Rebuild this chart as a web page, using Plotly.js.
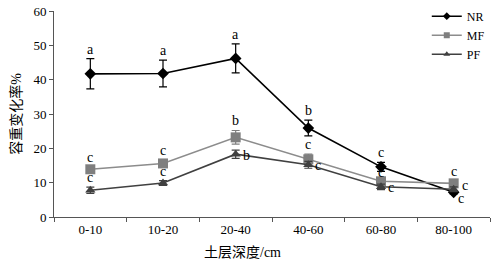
<!DOCTYPE html>
<html>
<head>
<meta charset="utf-8">
<script src="https://cdn.plot.ly/plotly-3.0.1.min.js"></script>
<style>html,body{margin:0;padding:0;background:#fff;}#chart{width:493px;height:266px;}</style>
</head>
<body>
<div id="chart"></div>
<script>
// ---- data ----
const depths = ['0-10', '10-20', '20-40', '40-60', '60-80', '80-100'];
const seriesNames = ['NR', 'MF', 'PF'];
const nrValues = [41.7, 41.8, 46.2, 25.9, 14.6, 7.2];
const nrErrors = [4.4, 3.9, 4.2, 2.3, 1.3, 0.5];
const mfValues = [13.9, 15.6, 23.2, 16.8, 10.4, 9.8];
const mfErrors = [0.8, 0.9, 2.0, 1.5, 1.0, 0.8];
const pfValues = [7.8, 9.9, 18.3, 15.2, 8.8, 8.1];
const pfErrors = [0.9, 0.7, 1.2, 1.0, 0.8, 0.7];
const nrLetters = ['a', 'a', 'a', 'b', 'c', 'c'];
const mfLetters = ['c', 'c', 'b', 'c', 'c', 'c'];
const pfLetters = ['c', 'c', 'b', 'c', 'c', 'c'];
const yTitle = '容重变化率%';
const xTitle = '土层深度/cm';

const FONT = 'Liberation Serif, Times New Roman, Noto Sans CJK SC, serif';

const styles = [
  {color: '#000000', line: '#000000', symbol: 'diamond', size: 9},
  {color: '#7f7f7f', line: '#8c8c8c', symbol: 'square', size: 10},
  {color: '#404040', line: '#404040', symbol: 'triangle-up', size: 9}
];
const vals = [nrValues, mfValues, pfValues];
const errs = [nrErrors, mfErrors, pfErrors];
const letters = [nrLetters, mfLetters, pfLetters];

const traces = vals.map((v, i) => ({
  type: 'scatter', mode: 'lines+markers',
  name: seriesNames[i], x: depths, y: v, showlegend: false,
  line: {color: styles[i].line, width: 1.6},
  marker: {color: styles[i].color, symbol: styles[i].symbol, size: styles[i].size},
  error_y: {type: 'data', array: errs[i], visible: true, color: styles[i].color, thickness: 1.2, width: 4}
}));
// legend-only entries with small markers, as in the reference legend
seriesNames.forEach((n, i) => traces.push({
  type: 'scatter', mode: 'lines+markers', name: n, x: [null], y: [null], showlegend: true,
  line: {color: styles[i].line, width: 1.6},
  marker: {color: styles[i].color, symbol: styles[i].symbol, size: 6}
}));

// label placement: 'up' = above error bar, 'right' = right of marker, 'dr' = down-right, 'on' = just above marker
const placement = [
  ['up', 'up', 'up', 'up', 'up', 'dr'],
  ['up', 'up', 'up', 'up', 'on', 'up'],
  ['up', 'up', 'right', 'right', 'right', 'ur']
];
const annotations = [];
letters.forEach((ls, i) => {
  ls.forEach((t, j) => {
    const p = placement[i][j];
    let a = {x: depths[j], xref: 'x', yref: 'y', text: t, showarrow: false,
      font: {family: FONT, size: 14, color: '#000'}};
    if (p === 'up') { a.y = vals[i][j] + errs[i][j]; a.yanchor = 'bottom'; a.yshift = 0; }
    else if (p === 'on') { a.y = vals[i][j]; a.yanchor = 'bottom'; a.yshift = -1; }
    else if (p === 'right') { a.y = vals[i][j]; a.xanchor = 'left'; a.xshift = 5; a.yshift = -1; }
    else if (p === 'ur') { a.y = vals[i][j]; a.xanchor = 'left'; a.xshift = 6; a.yshift = 4; }
    else if (p === 'dr') { a.y = vals[i][j]; a.xanchor = 'left'; a.xshift = 2; a.yshift = -6; }
    annotations.push(a);
  });
});
annotations.push({xref: 'paper', yref: 'paper', x: 0.433, y: -0.174, text: xTitle,
  showarrow: false, xanchor: 'center', yanchor: 'middle',
  font: {family: FONT, size: 14, color: '#000'}});

const layout = {
  width: 493, height: 266,
  margin: {l: 54, r: 3, t: 10, b: 49},
  paper_bgcolor: '#fff', plot_bgcolor: '#fff',
  font: {family: FONT, size: 13, color: '#000'},
  showlegend: true,
  legend: {x: 0.855, y: 1.04, xanchor: 'left', yanchor: 'top', bgcolor: 'rgba(0,0,0,0)',
    font: {family: FONT, size: 12}, itemwidth: 30, tracegroupgap: 0},
  xaxis: {type: 'category', range: [-0.5, 5.5], showline: true, linecolor: '#555', linewidth: 1,
    ticks: 'outside', ticklen: 4, tickcolor: '#555', tickson: 'boundaries',
    showgrid: false, zeroline: false, tickfont: {family: FONT, size: 13}},
  yaxis: {range: [0, 60], dtick: 10, showline: true, linecolor: '#555', linewidth: 1,
    ticks: 'outside', ticklen: 4, tickcolor: '#555', showgrid: false, zeroline: false,
    tickfont: {family: FONT, size: 13},
    title: {text: yTitle, font: {family: FONT, size: 14}, standoff: 8}},
  annotations: annotations
};

Plotly.newPlot('chart', traces, layout, {displayModeBar: false, staticPlot: true});
</script>
</body>
</html>
